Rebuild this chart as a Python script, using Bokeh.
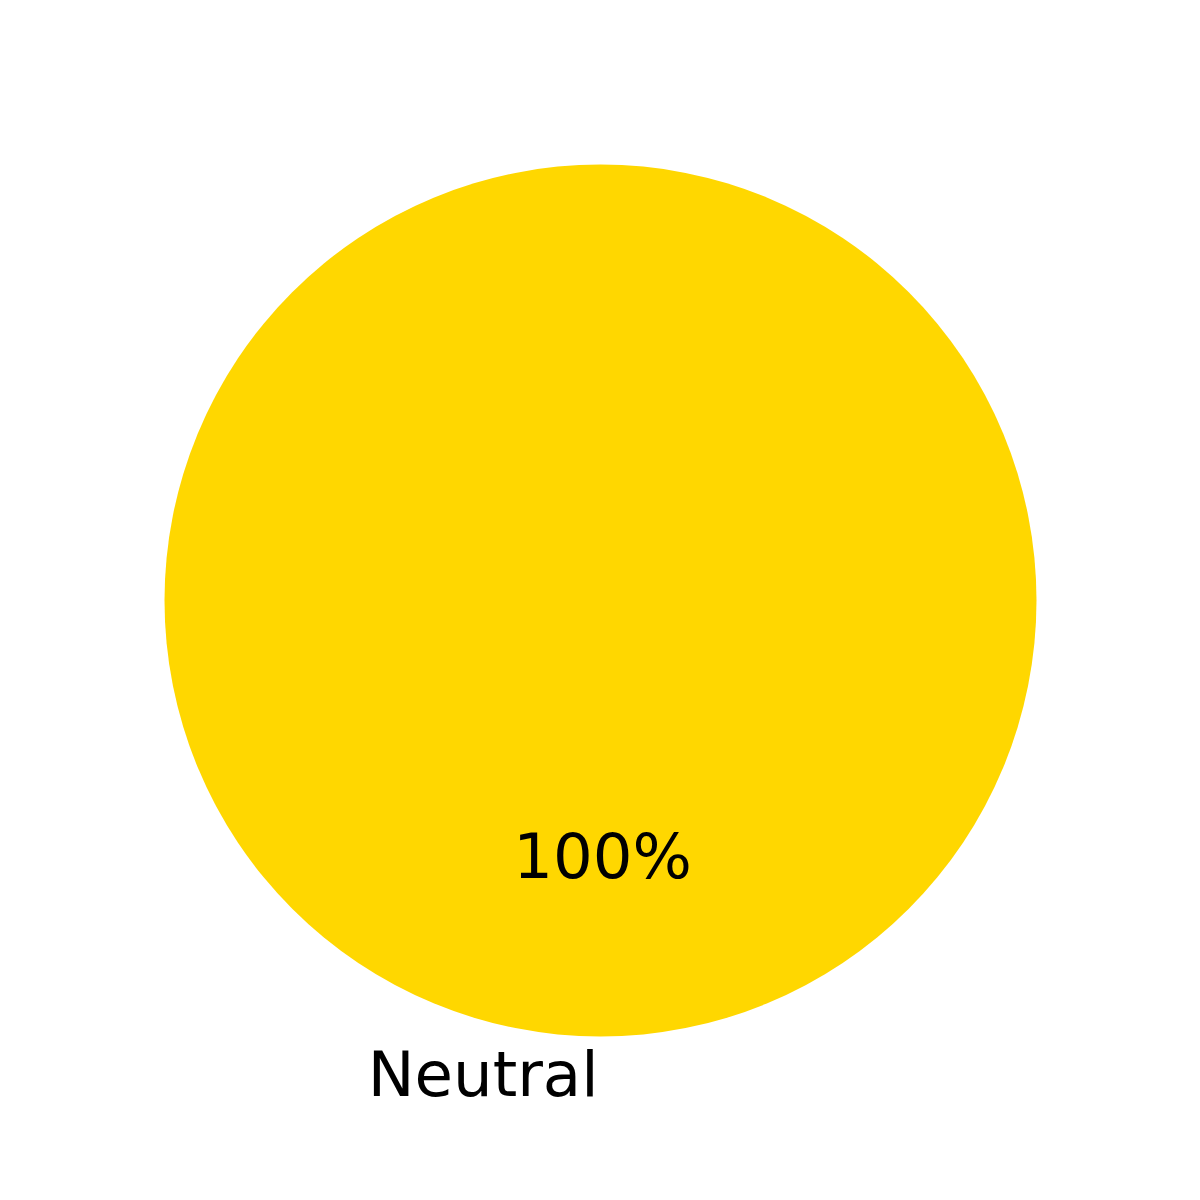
import numpy as np
from bokeh.plotting import figure
from bokeh.models import Range1d, ColumnDataSource
from bokeh.core.properties import value
from bokeh.embed import file_html
from bokeh.resources import INLINE

# Data
labels = ["Neutral"]
values = [100]
colors = ["#FFD700"]

W = 1184
p = figure(width=W, height=W, output_backend="svg", toolbar_location=None,
           x_axis_type=None, y_axis_type=None, min_border=0,
           x_range=Range1d(0, W), y_range=Range1d(0, W))
p.outline_line_color = None
p.grid.visible = False
p.background_fill_color = "white"
p.border_fill_color = "white"

cx, cy, R = 600.0, 600.0, 436.0  # page coords (y down); convert to data (y up)
def ty(y):
    return W - y

vals = np.array(values, dtype=float)
frac = vals / vals.sum()
start_deg = 90.0
starts = np.radians(start_deg + 360 * np.concatenate([[0], np.cumsum(frac)[:-1]]))
ends = np.radians(start_deg + 360 * np.cumsum(frac))
mids = (starts + ends) / 2

for i in range(len(values)):
    if frac[i] >= 0.9999:
        p.scatter(x=[cx], y=[ty(cy)], size=2 * R, marker="circle",
                  fill_color=colors[i], line_color=None)
    else:
        p.wedge(x=[cx], y=[ty(cy)], radius=R, start_angle=[starts[i]], end_angle=[ends[i]],
                fill_color=colors[i], line_color=None)

BASE_FIX = 23.0  # empirical correction for svg baseline placement

# labels
lx = cx + 1.1 * R * np.cos(mids)
ly = ty(cy) + 1.1 * R * np.sin(mids)
aligns = ["right" if np.cos(m) <= 0 else "left" for m in mids]
src = ColumnDataSource(dict(x=lx - 2, y=ly - 17.4 + BASE_FIX, t=labels, a=aligns))
p.text(x="x", y="y", text="t", source=src, text_align="a", text_baseline="alphabetic",
       text_font=value("DejaVu Sans"), text_font_size="62.5px", text_color="black")

px = cx + 0.6 * R * np.cos(mids)
py = ty(cy) + 0.6 * R * np.sin(mids)
pct = ["%d%%" % round(f * 100) for f in frac]
src2 = ColumnDataSource(dict(x=px + 2, y=py - 17.4 + BASE_FIX, t=pct))
p.text(x="x", y="y", text="t", source=src2, text_align="center", text_baseline="alphabetic",
       text_font=value("DejaVu Sans"), text_font_size="62.5px", text_color="black")

open("out.html", "w").write(file_html(p, INLINE))
